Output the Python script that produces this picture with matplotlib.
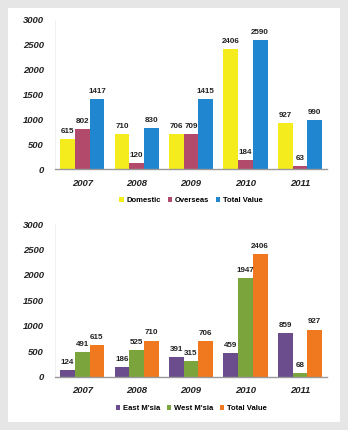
import matplotlib
matplotlib.use("Agg")
import matplotlib.pyplot as plt
from matplotlib.patches import Rectangle
import numpy as np

plt.rcParams["font.family"] = ["Liberation Sans", "DejaVu Sans"]

years = ["2007", "2008", "2009", "2010", "2011"]

domestic = [615, 710, 706, 2406, 927]
overseas = [802, 120, 709, 184, 63]
total_value_top = [1417, 830, 1415, 2590, 990]

east_msia = [124, 186, 391, 459, 859]
west_msia = [491, 525, 315, 1947, 68]
total_value_bottom = [615, 710, 706, 2406, 927]

top_labels = ["Domestic", "Overseas", "Total Value"]
bottom_labels = ["East M'sia", "West M'sia", "Total Value"]

top_colors = ["#f4ec1c", "#b24a6c", "#1f86cf"]
bottom_colors = ["#6b4c8c", "#7ba43c", "#f0781e"]

yticks = [0, 500, 1000, 1500, 2000, 2500, 3000]

fig = plt.figure(figsize=(3.48, 4.30), dpi=100)
fig.patch.set_facecolor("#e6e6e6")
fig.add_artist(Rectangle((8 / 348, 8 / 430), 332 / 348, 414 / 430,
                         transform=fig.transFigure, facecolor="white",
                         edgecolor="none", zorder=0))


def draw_panel(rect, series, labels, colors):
    ax = fig.add_axes(rect)
    ax.set_facecolor("none")
    x = np.arange(len(years))
    w = 0.27
    for i, (vals, lab, col) in enumerate(zip(series, labels, colors)):
        pos = x + (i - 1) * w
        ax.bar(pos, vals, width=w, color=col, label=lab, zorder=2)
        for p, v in zip(pos, vals):
            ax.text(p, v + 80, str(v), ha="center", va="bottom",
                    fontsize=5.8, fontweight="bold", color="#222222")
    ax.set_xlim(-0.5, len(years) - 0.5)
    ax.set_ylim(0, 3000)
    ax.set_yticks(yticks)
    ax.set_yticklabels([str(t) for t in yticks], fontsize=6.8,
                       fontstyle="italic", fontweight="bold", color="#222222")
    ax.set_xticks(x)
    ax.set_xticklabels(years, fontsize=6.8, fontstyle="italic",
                       fontweight="bold", color="#222222")
    ax.tick_params(length=0, pad=7)
    ax.tick_params(axis="y", pad=8)
    for s in ["top", "right"]:
        ax.spines[s].set_visible(False)
    ax.spines["left"].set_color("#f0f0f0")
    ax.spines["bottom"].set_color("#999999")
    ax.spines["bottom"].set_linewidth(1.0)
    ax.legend(loc="upper center", bbox_to_anchor=(0.5, -0.14), ncol=3,
              frameon=False, handlelength=0.6, handleheight=0.6,
              handletextpad=0.3, columnspacing=0.9,
              prop={"family": ["Liberation Sans Narrow", "Liberation Sans"],
                    "size": 5.5, "weight": "bold"})
    return ax


draw_panel([0.158, 0.606, 0.782, 0.348],
           [domestic, overseas, total_value_top], top_labels, top_colors)
draw_panel([0.158, 0.124, 0.782, 0.355],
           [east_msia, west_msia, total_value_bottom], bottom_labels, bottom_colors)

fig.savefig("out.png", dpi=100)
